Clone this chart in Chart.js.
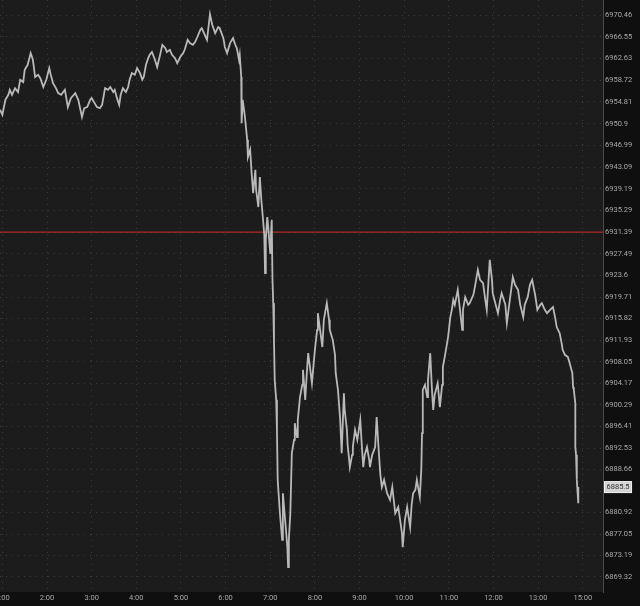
<!DOCTYPE html>
<html>
<head>
<meta charset="utf-8">
<script src="https://cdn.jsdelivr.net/npm/chart.js@4.4.1/dist/chart.umd.min.js"></script>
<style>
  html, body { margin: 0; padding: 0; background: #0f0f0f; }
  #wrap { width: 640px; height: 606px; }
</style>
</head>
<body>
<div id="wrap"><canvas id="myChart"></canvas></div>
<script>
// session minutes since 0:00 (14:00-15:00 break is skipped)
var minutes = [57,60,64,68,70,73,77,81,84,88,90,94,98,101,104,108,111,115,119,123,125,128,132,135,139,144,148,152,158,162,167,170,174,178,180,184,187,191,194,198,202,205,209,211,214,217,219,222,226,229,231,234,238,241,245,248,250,253,256,258,261,265,268,272,275,279,281,285,288,292,295,299,303,305,309,312,316,319,322,326,328,332,335,339,342,346,350,352,357,359,362,366,370,373,375,378,379,381,
  381,382,383,386,389,390,393,395,397,400,401,404,406,408,410,412,413,414,416,417,420,421,422,423,
  424,425,426,428,429,430,433,436,437,440,443,444,445,447,449,452,453,456,457,460,463,464,467,469,471,473,476,480,483,484,487,490,492,496,499,500,504,507,508,511,514,516,519,520,523,524,527,530,531,534,537,541,543,545,547,550,553,554,557,561,563,566,568,570,573,577,581,584,588,592,594,597,598,601,604,608,610,612,615,617,621,623,624,625,628,631,632,635,637,639,641,645,648,651,652,655,659,662,664,666,668,672,675,678,679,682,686,688,693,695,699,702,706,709,711,715,718,719,723,726,729,731,736,738,742,746,749,753,756,760,762,766,769,772,776,779,783,785,789,792,796,800,803,805,809,812,813,816,820,823,826,827,828,830,830,831,832,834,834];

var prices = [6953.4,6952.5,6955.2,6956.1,6957.0,6956.1,6957.3,6956.6,6958.8,6958.4,6960.6,6961.5,6963.6,6962.4,6959.3,6959.7,6959.1,6957.5,6958.8,6960.9,6959.7,6958.2,6957.3,6956.4,6956.1,6957.0,6953.9,6955.5,6956.4,6955.2,6952.1,6953.7,6953.9,6955.2,6955.5,6954.6,6953.9,6953.7,6954.3,6957.3,6957.0,6957.5,6956.6,6957.0,6955.5,6954.3,6956.1,6957.3,6956.6,6957.5,6958.8,6960.0,6959.7,6960.9,6960.0,6958.8,6959.3,6961.5,6962.7,6963.3,6963.8,6962.4,6961.1,6963.3,6965.1,6964.5,6963.8,6964.2,6963.3,6962.7,6961.8,6962.9,6963.6,6964.2,6966.0,6965.4,6965.1,6965.6,6966.5,6967.8,6968.1,6966.9,6966.0,6970.6,6968.7,6967.2,6968.3,6968.1,6966.3,6964.7,6963.6,6965.4,6966.3,6965.1,6964.5,6962.4,6963.3,6959.3,
  6957.0,6951.0,6955.2,6952.1,6948.0,6944.9,6946.2,6942.0,6938.4,6942.6,6939.0,6935.9,6941.3,6937.2,6934.1,6930.9,6924.0,6930.0,6934.1,6932.7,6927.6,6930.9,6933.6,6922.8,
  6918.6,6912.0,6904.8,6901.2,6895.8,6886.8,6880.8,6876.0,6884.4,6879.6,6874.7,6871.1,6876.0,6880.8,6891.6,6894.0,6897.0,6894.5,6897.6,6901.7,6903.9,6906.6,6901.2,6905.7,6909.6,6907.5,6904.2,6910.2,6913.8,6916.8,6913.8,6910.7,6915.6,6918.6,6915.6,6913.8,6912.0,6909.3,6906.0,6903.0,6897.6,6891.6,6902.4,6899.4,6895.8,6893.1,6889.1,6891.3,6892.7,6895.8,6894.0,6897.6,6893.1,6889.1,6891.3,6892.7,6890.4,6889.1,6891.3,6892.7,6898.1,6891.6,6887.7,6885.5,6886.8,6884.4,6883.2,6885.5,6880.8,6881.9,6880.1,6877.2,6874.7,6879.6,6881.9,6878.3,6882.3,6884.4,6885.0,6886.8,6883.7,6888.6,6895.2,6903.0,6903.9,6901.7,6904.8,6909.6,6903.9,6899.4,6902.1,6904.2,6899.9,6903.9,6907.1,6909.3,6912.5,6916.1,6917.4,6919.2,6918.3,6921.0,6917.4,6913.8,6917.4,6919.7,6918.3,6918.6,6920.1,6921.5,6924.6,6922.8,6922.2,6919.2,6917.4,6926.4,6922.8,6920.4,6918.3,6916.8,6919.2,6920.4,6918.3,6915.0,6919.2,6923.3,6921.9,6921.0,6918.3,6916.1,6918.3,6919.7,6921.9,6922.8,6920.1,6917.4,6918.3,6918.6,6917.4,6916.8,6917.4,6917.9,6915.9,6914.3,6913.2,6911.1,6910.2,6909.3,6908.9,6907.5,6906.0,6903.5,6903.0,6900.6,6892.7,6891.3,6886.8,6882.6,6885.5];

var lastPrice = 6885.5;
var refLevel = 6931.39;

var xTickMinutes = [60,120,180,240,300,360,420,480,540,600,660,720,780,840];
var xTickLabels = ["1:00","2:00","3:00","4:00","5:00","6:00","7:00","8:00","9:00","10:00","11:00","12:00","13:00","15:00"];

var yTickLabels = ["6970.46","6966.55","6962.63","6958.72","6954.81","6950.9","6946.99","6943.09","6939.19","6935.29","6931.39","6927.49","6923.6","6919.71","6915.82","6911.93","6908.05","6904.17","6900.29","6896.41","6892.53","6888.66","6884.79","6880.92","6877.05","6873.19","6869.32"];

var xMin = 56.8, xMax = 867.2;
var yMin = 6866.62, yMax = 6973.16;

var pricePoints = minutes.map(function (m, i) { return { x: m, y: prices[i] }; });

var bgPlugin = {
    id: "bg",
    beforeDraw: function (chart) {
        var c = chart.ctx, a = chart.chartArea;
        c.save();
        c.fillStyle = "#0f0f0f";
        c.fillRect(0, 0, chart.width, chart.height);
        c.fillStyle = "#1c1c1c";
        c.fillRect(a.left, a.top, a.right - a.left, a.bottom - a.top);
        c.restore();
    },
    afterDraw: function (chart) {
        var c = chart.ctx, a = chart.chartArea;
        var y = chart.scales.y.getPixelForValue(lastPrice);
        var txt = lastPrice.toFixed(1);
        c.save();
        c.font = "7.5px Roboto";
        var w = c.measureText(txt).width + 4;
        c.fillStyle = "#d4d4d4";
        c.strokeStyle = "#f0f0f0";
        c.lineWidth = 1;
        c.fillRect(a.right + 1.5, y - 5.5, w, 11);
        c.strokeRect(a.right + 1.5, y - 5.5, w, 11);
        c.fillStyle = "#333";
        c.textBaseline = "middle";
        c.fillText(txt, a.right + 3.5, y + 0.5);
        c.restore();
    }
};

function noPad(s) {
    s.paddingLeft = 0; s.paddingRight = 0;
    s.paddingTop = 0; s.paddingBottom = 0;
}

var myChart = new Chart(document.getElementById("myChart"), {
    type: "line",
    data: {
        datasets: [{
            data: pricePoints,
            borderColor: "#b9b9b9",
            borderWidth: 1.8,
            pointRadius: 0,
            tension: 0
        }, {
            data: [{ x: xMin, y: refLevel }, { x: xMax, y: refLevel }],
            borderColor: "#d02a2a",
            borderWidth: 1,
            pointRadius: 0
        }]
    },
    options: {
        responsive: true,
        maintainAspectRatio: false,
        animation: false,
        layout: { padding: 0 },
        plugins: { legend: { display: false }, tooltip: { enabled: false } },
        scales: {
            x: {
                type: "linear",
                min: xMin,
                max: xMax,
                afterBuildTicks: function (s) {
                    s.ticks = xTickMinutes.map(function (v) { return { value: v }; });
                },
                afterFit: function (s) { s.height = 14; noPad(s); },
                ticks: {
                    autoSkip: false,
                    maxRotation: 0,
                    padding: 2,
                    color: "#a8a8a8",
                    font: { family: "Roboto", size: 7.5 },
                    callback: function (v, i) { return xTickLabels[i]; }
                },
                grid: { color: "#3c3c3c", drawTicks: false },
                border: { display: false, dash: [1, 5] }
            },
            y: {
                position: "right",
                min: yMin,
                max: yMax,
                afterBuildTicks: function (s) {
                    s.ticks = yTickLabels.map(function (v) { return { value: parseFloat(v) }; });
                },
                afterFit: function (s) { s.width = 37; noPad(s); },
                ticks: {
                    autoSkip: false,
                    padding: 2,
                    color: "#a8a8a8",
                    font: { family: "Roboto", size: 7.5 },
                    callback: function (v, i) { return yTickLabels[i]; }
                },
                grid: { color: "#3c3c3c", drawTicks: false },
                border: { display: true, color: "#4a4a4a", dash: [1, 5] }
            }
        }
    },
    plugins: [bgPlugin]
});
</script>
</body>
</html>
